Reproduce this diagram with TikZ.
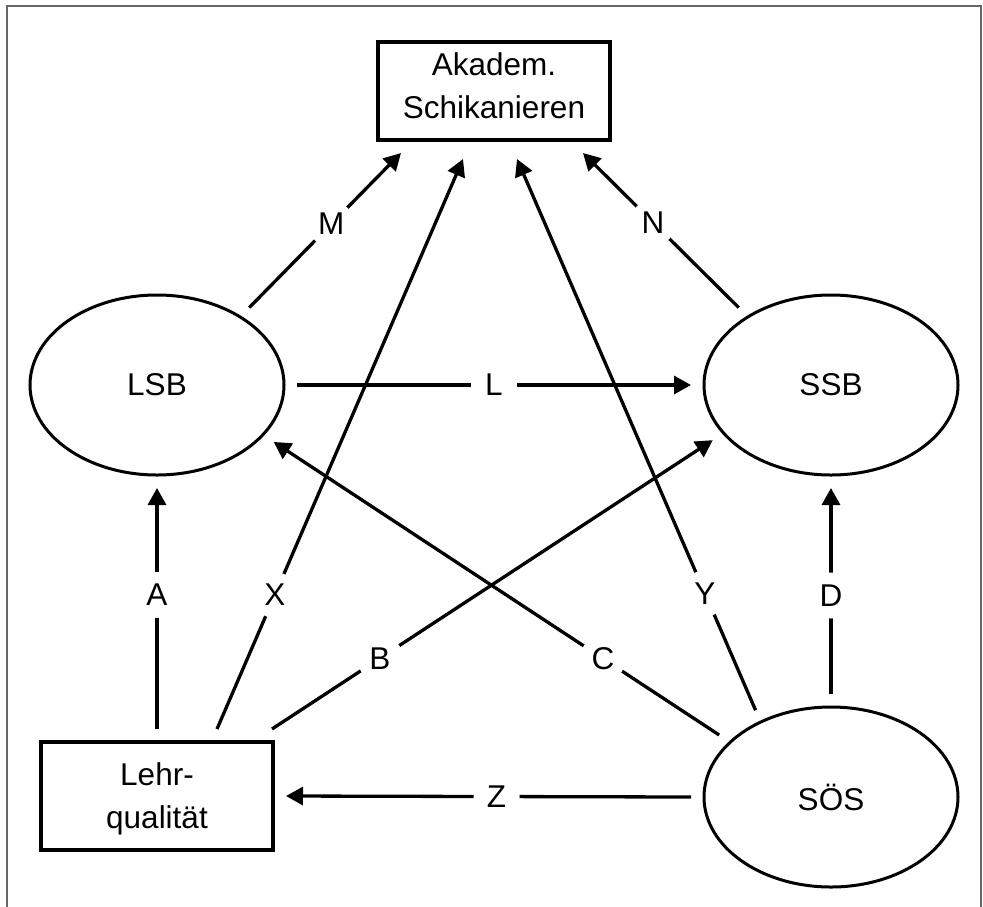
\documentclass[tikz,border=0pt]{standalone}
\usepackage{fontspec}
\setmainfont{Liberation Sans}
\usetikzlibrary{shapes.geometric,arrows.meta}
\begin{document}
\begin{tikzpicture}[x=1pt,y=-1pt,
  every node/.style={font=\fontsize{31.5}{43}\selectfont},
  box/.style={draw, line width=3.3pt, minimum width=232pt, inner sep=0pt, align=center, text depth=0pt, outer sep=13pt},
  oval/.style={draw, ellipse, line width=3pt, minimum width=254pt, minimum height=180pt, inner sep=0pt, outer sep=13pt},
  conn/.style={line width=3.3pt, -{Triangle[length=17pt,width=18pt]}},
  lab/.style={circle, fill=white, inner sep=0pt, minimum size=46pt},
]
\useasboundingbox (0,0) rectangle (983,906);
\draw[black!60, line width=2pt] (7,915) -- (7,6) -- (981,6) -- (981,915);

\node[box, minimum height=98pt, text depth=10pt] (top) at (494,91) {Akadem.\\Schikanieren};
\node[oval] (lsb) at (157,385) {LSB};
\node[oval] (ssb) at (831,385) {SSB};
\node[oval] (sos) at (831,797) {SÖS};
\node[box, minimum height=108pt] (lehr) at (157,796) {Lehr-\\qualität};

\draw[conn] (lehr.north) -- node[lab,pos=0.556]{A} (lsb.south);
\draw[conn] ([xshift=60pt]lehr.north) -- node[lab,pos=0.235]{X} ([xshift=-31pt,yshift=-6pt]top.south);
\draw[conn] ([xshift=115pt]lehr.north) -- node[lab,pos=0.245]{B} (ssb.205);
\draw[conn] (sos.151) -- node[lab,pos=0.261]{C} (lsb.-26);
\draw[conn] (sos.131) -- node[lab,pos=0.212]{Y} ([xshift=23pt,yshift=-6pt]top.south);
\draw[conn] (sos.north) -- node[lab,pos=0.478]{D} (ssb.south);
\draw[conn] (sos.west) -- node[lab,pos=0.48]{Z} (lehr.east);
\draw[conn] (lsb.east) -- node[lab]{L} (ssb.west);
\draw[conn] (lsb.40) -- node[lab,pos=0.54]{M} ([xshift=-93pt]top.south);
\draw[conn] (ssb.140) -- node[lab,pos=0.55]{N} ([xshift=89pt]top.south);
\end{tikzpicture}
\end{document}
